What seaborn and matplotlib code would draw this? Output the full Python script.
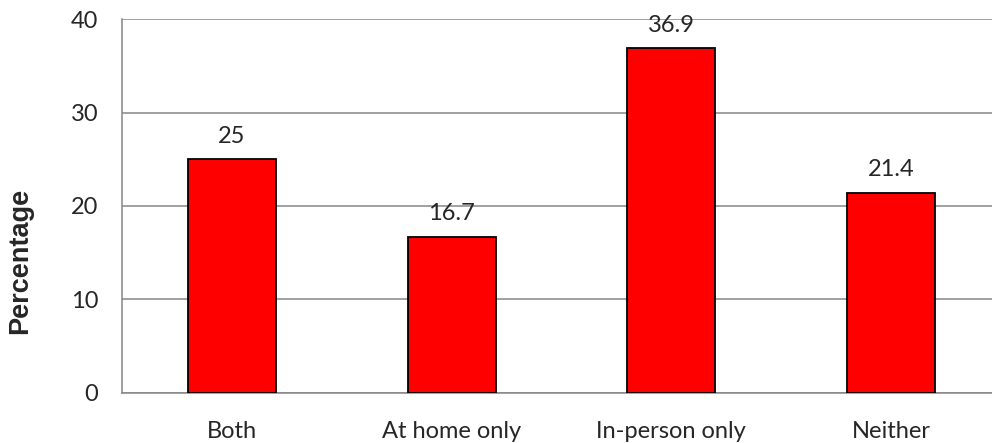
import pandas as pd
import seaborn as sns
import matplotlib.pyplot as plt

categories = ['Both', 'At home only', 'In-person only', 'Neither']
percentages = [25, 16.7, 36.9, 21.4]
value_labels = ['25', '16.7', '36.9', '21.4']

df = pd.DataFrame({'group': categories, 'pct': percentages})

sns.set_style('white')
plt.rcParams['font.family'] = ['Lato', 'DejaVu Sans']

fig = plt.figure(figsize=(9.92, 4.43), dpi=100)
ax = fig.add_axes([0.123, 0.113, 0.886, 0.844])

sns.barplot(data=df, x='group', y='pct', color='#FF0000', saturation=1,
            width=0.4, edgecolor='black', linewidth=1.3, ax=ax, zorder=3)

ax.set_xlim(-0.5, 3.5)
ax.set_ylim(0, 40)
ax.set_yticks([0, 10, 20, 30, 40])
ax.yaxis.grid(True, color='#868686', linewidth=1.1, zorder=0)
ax.set_axisbelow(True)

# category boundary ticks like Excel
ax.set_xticks([-0.5, 0.5, 1.5, 2.5], minor=False, labels=[])
ax.set_xticks([0, 1, 2, 3], minor=True, labels=categories)
ax.tick_params(axis='x', which='major', length=7, width=1.1, color='#868686')
ax.tick_params(axis='x', which='minor', length=0, pad=20, labelsize=17)
ax.tick_params(axis='y', length=8, width=1.1, color='#868686', labelsize=17, pad=9)

for side in ['top', 'right']:
    ax.spines[side].set_visible(False)
for side in ['left', 'bottom']:
    ax.spines[side].set_color('#868686')
    ax.spines[side].set_linewidth(1.1)

ax.bar_label(ax.containers[0], labels=value_labels, padding=9, fontsize=17)

ax.set_xlabel('')
ax.set_ylabel('Percentage', fontsize=19.5, fontweight='bold',
              fontfamily=['Liberation Sans', 'DejaVu Sans'])
ax.yaxis.set_label_coords(-0.101, 0.353)

fig.savefig('out.png', dpi=100)
